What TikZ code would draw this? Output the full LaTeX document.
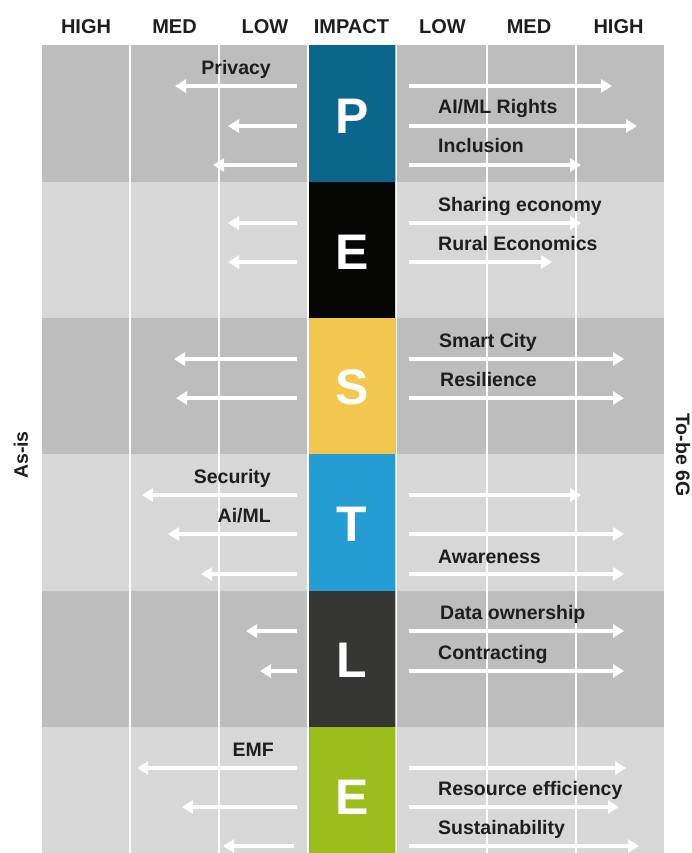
\documentclass[tikz,border=0pt]{standalone}
\usepackage{fontspec}
\setmainfont{Liberation Sans}
\usetikzlibrary{arrows.meta}
\definecolor{gdark}{HTML}{BDBDBD}
\definecolor{glight}{HTML}{D7D7D7}
\definecolor{txt}{HTML}{1E1E1E}
\definecolor{cP}{HTML}{0A668C}
\definecolor{cE}{HTML}{060604}
\definecolor{cS}{HTML}{F1C74E}
\definecolor{cT}{HTML}{239DD3}
\definecolor{cL}{HTML}{363634}
\definecolor{cEn}{HTML}{9CBE1D}
\newcommand\LArr[3]{\coordinate (#1a) at (297,#2); \coordinate (#1b) at (#3,#2); \draw[arr] (#1a) -- (#1b);}
\newcommand\RArr[3]{\coordinate (#1a) at (409,#2); \coordinate (#1b) at (#3,#2); \draw[arr] (#1a) -- (#1b);}
\begin{document}
\begin{tikzpicture}[x=1pt,y=-1pt,
  arr/.style={white, line width=3.6pt, -{Triangle[length=11pt,width=13pt]}},
  gridline/.style={white, line width=1.4pt},
  lab/.style={font=\bfseries\fontsize{19.5}{23}\selectfont, text=txt, inner sep=0pt},
  llab/.style={lab, anchor=base east},
  rlab/.style={lab, anchor=base west},
  head/.style={font=\bfseries\fontsize{20}{24}\selectfont, text=txt, inner sep=0pt, anchor=base},
  side/.style={font=\bfseries\fontsize{19.5}{24}\selectfont, text=txt, inner sep=0pt, anchor=center},
  letter/.style={font=\bfseries\fontsize{50}{60}\selectfont, text=white, inner sep=0pt, anchor=base},
]
\useasboundingbox (0,0) rectangle (691,853);
\fill[white] (0,0) rectangle (691,853);
% rows
\fill[gdark]  (42,45)  rectangle (664,182);
\fill[glight] (42,182) rectangle (664,318);
\fill[gdark]  (42,318) rectangle (664,454);
\fill[glight] (42,454) rectangle (664,591);
\fill[gdark]  (42,591) rectangle (664,727);
\fill[glight] (42,727) rectangle (664,853);
% grid lines
\foreach \gx in {130,219,307.8,396.2,487,576}
  \draw[gridline] (\gx,45) -- (\gx,853);
% impact column
\fill[cP]  (308.8,45)  rectangle (395.4,182);
\fill[cE]  (308.8,182) rectangle (395.4,318);
\fill[cS]  (308.8,318) rectangle (395.4,454);
\fill[cT]  (308.8,454) rectangle (395.4,591);
\fill[cL]  (308.8,591) rectangle (395.4,727);
\fill[cEn] (308.8,727) rectangle (395.4,853);
% letters
\node[letter] (lP)  at (352,133.3) {P};
\node[letter] (lE)  at (352,269.3) {E};
\node[letter] (lS)  at (352,404.8) {S};
\node[letter] (lT)  at (352,541.3) {T};
\node[letter] (lL)  at (352,677) {L};
\node[letter] (lEn) at (352,814.3) {E};
% headers
\node[head] (h1) at (86,33.7) {HIGH};
\node[head] (h2) at (174.5,33.7) {MED};
\node[head] (h3) at (265,33.7) {LOW};
\node[head] (h4) at (351.5,33.7) {IMPACT};
\node[head] (h5) at (442.5,33.7) {LOW};
\node[head] (h6) at (529,33.7) {MED};
\node[head] (h7) at (618.5,33.7) {HIGH};
% side labels
\node[side, rotate=90] (asis) at (21,455) {As-is};
\node[side, rotate=-90] (tobe) at (683,455) {To-be 6G};
% arrows P
\LArr{p1l}{86}{175}  \RArr{p1r}{86}{612}
\LArr{p2l}{126}{228} \RArr{p2r}{126}{637}
\LArr{p3l}{165}{213} \RArr{p3r}{165}{581}
% arrows E
\LArr{e1l}{223}{228} \RArr{e1r}{223}{581}
\LArr{e2l}{262}{228} \RArr{e2r}{262}{552}
% arrows S
\LArr{s1l}{359}{174} \RArr{s1r}{359}{624}
\LArr{s2l}{398}{176} \RArr{s2r}{398}{624}
% arrows T
\LArr{t1l}{495}{142} \RArr{t1r}{495}{581}
\LArr{t2l}{534}{168} \RArr{t2r}{534}{624}
\LArr{t3l}{574}{201} \RArr{t3r}{574}{624}
% arrows L
\LArr{l1l}{631}{246} \RArr{l1r}{631}{624}
\LArr{l2l}{671}{260} \RArr{l2r}{671}{624}
% arrows E (environmental)
\LArr{n1l}{768}{137} \RArr{n1r}{768}{626}
\LArr{n2l}{807}{182} \RArr{n2r}{807}{619}
\coordinate (n3la) at (293.5,846); \coordinate (n3lb) at (223,846); \draw[arr] (n3la) -- (n3lb);
\RArr{n3r}{846}{639}
% labels left
\node[llab] (privacy)  at (271,75) {Privacy};
\node[llab] (security) at (271,483) {Security};
\node[llab] (aiml)     at (271,522) {Ai/ML};
\node[llab] (emf)      at (274,756) {EMF};
% labels right
\node[rlab] (airights) at (438,114) {AI/ML Rights};
\node[rlab] (incl)     at (438,153) {Inclusion};
\node[rlab] (sharing)  at (438,211) {Sharing economy};
\node[rlab] (rural)    at (438,250) {Rural Economics};
\node[rlab] (smart)    at (439,347) {Smart City};
\node[rlab] (resil)    at (440,386) {Resilience};
\node[rlab] (aware)    at (438,563) {Awareness};
\node[rlab] (dataown)  at (440,619) {Data ownership};
\node[rlab] (contract) at (438,659) {Contracting};
\node[rlab] (resource) at (438,795) {Resource efficiency};
\node[rlab] (sustain)  at (438,834) {Sustainability};
\end{tikzpicture}
\end{document}
